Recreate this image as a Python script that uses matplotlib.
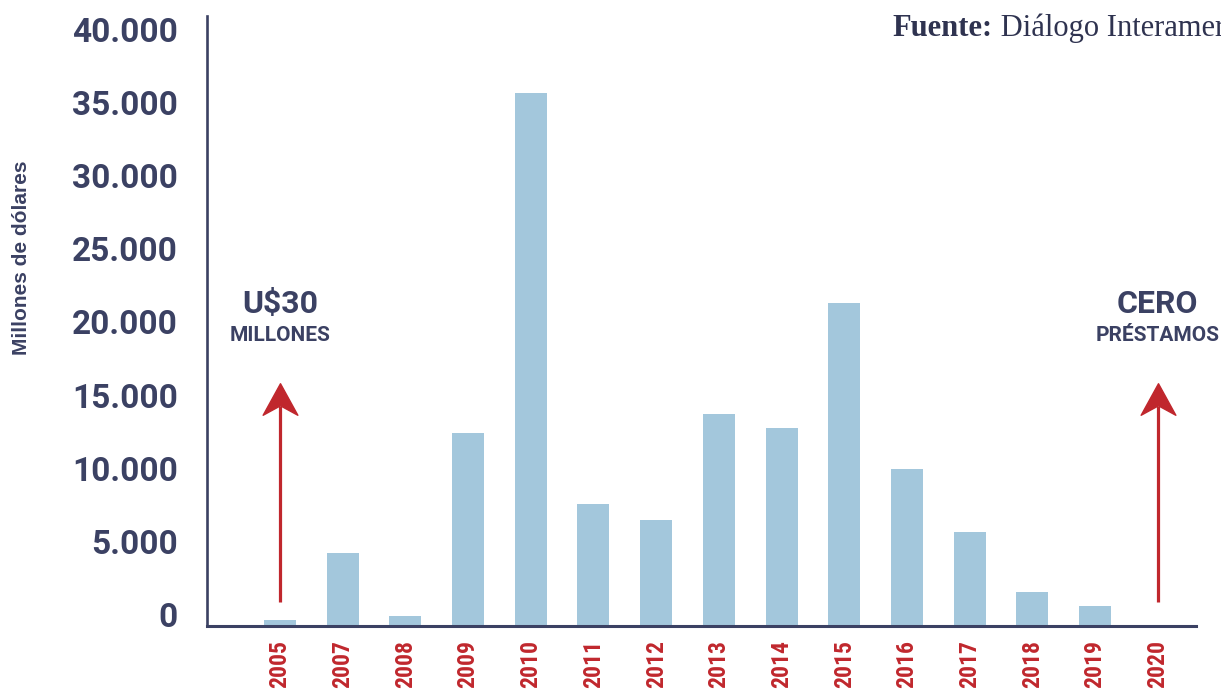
import matplotlib
matplotlib.use("Agg")
import matplotlib.pyplot as plt
import numpy as np
from matplotlib import font_manager
from matplotlib.path import Path
from matplotlib.transforms import ScaledTranslation


# -----------------------------
# Data
# -----------------------------
years = ["2005", "2007", "2008", "2009", "2010", "2011", "2012", "2013",
         "2014", "2015", "2016", "2017", "2018", "2019", "2020"]
loans = [400, 5000, 650, 13150, 36400, 8300, 7250, 14450,
         13500, 22050, 10700, 6400, 2300, 1350, 0]

ytick_values = [0, 5000, 10000, 15000, 20000, 25000, 30000, 35000, 40000]
ytick_labels = ["0", "5.000", "10.000", "15.000", "20.000",
                "25.000", "30.000", "35.000", "40.000"]

notes = [("2005", "U$30", "MILLONES"), ("2020", "CERO", "PRÉSTAMOS")]

# -----------------------------
# Style
# -----------------------------
NAVY = "#3b4163"
RED = "#c0272d"
BAR = "#a3c7dc"


def pick_font(options):
    names = {f.name for f in font_manager.fontManager.ttflist}
    for name in options:
        if name in names:
            return name
    return "DejaVu Sans"


narrow = pick_font(["Roboto Condensed", "Liberation Sans Narrow", "DejaVu Sans"])

fig = plt.figure(figsize=(12.21, 6.92), dpi=100)
ax = fig.add_axes([0.1695, 0.0954, 0.81, 0.8815])

idx = np.arange(len(years))
ax.bar(idx, loans, width=0.51, color=BAR, zorder=1)

ax.set_xlim(-1.164, 14.609)
ax.set_ylim(0, 41640)

for side in ["top", "right"]:
    ax.spines[side].set_visible(False)
ax.spines["left"].set_color(NAVY)
ax.spines["left"].set_linewidth(1.9)
ax.spines["bottom"].set_color(NAVY)
ax.spines["bottom"].set_linewidth(2.2)
ax.spines["bottom"].set_zorder(3)

ax.set_yticks(ytick_values, ytick_labels)
ax.tick_params(axis="y", length=0, pad=21, labelsize=24, labelcolor=NAVY)
shift = ScaledTranslation(0, 0.11, fig.dpi_scale_trans)
for lab in ax.get_yticklabels():
    lab.set_fontfamily("Roboto")
    lab.set_fontweight("bold")
    lab.set_transform(lab.get_transform() + shift)

ax.set_xticks(idx, years)
ax.tick_params(axis="x", length=0, pad=10, labelcolor=RED)
for lab in ax.get_xticklabels():
    lab.set_rotation(90)
    lab.set_fontfamily(narrow)
    lab.set_fontweight("bold")
    lab.set_fontsize(17)
    lab.set_va("top")

fig.text(0.018, 0.627, "Millones de dólares", rotation=90, ha="center",
         va="center", fontsize=15, fontweight="bold", color=NAVY,
         family="Liberation Sans")

# arrows and notes
head = Path([(0, 0.5), (-0.55, -0.5), (0, -0.2), (0.55, -0.5), (0, 0.5)],
            [Path.MOVETO, Path.LINETO, Path.LINETO, Path.LINETO, Path.CLOSEPOLY])
trans = ax.get_xaxis_transform()
for year, big, small in notes:
    i = years.index(year)
    ax.plot([i, i], [0.039, 0.36], color=RED, lw=2.3, transform=trans,
            solid_capstyle="butt", clip_on=False)
    ax.plot([i], [0.372], marker=head, markersize=25, color=RED,
            transform=trans, clip_on=False)
    ax.text(i, 0.528, big, transform=trans, ha="center", va="center",
            fontsize=23, fontweight="bold", color=NAVY, family="Roboto")
    ax.text(i, 0.477, small, transform=trans, ha="center", va="center",
            fontsize=15, fontweight="bold", color=NAVY, family="Roboto")

# source
src = fig.text(0.731, 0.948, "Fuente:", fontsize=22, fontweight="bold",
               color="#2f3350", family="Liberation Serif", va="baseline")
ax.annotate(" Diálogo Interamericano", xy=(1, 0), xycoords=src,
            va="bottom", ha="left", fontsize=22, color="#2f3350",
            family="Liberation Serif", annotation_clip=False)

fig.savefig("out.png", dpi=100)
